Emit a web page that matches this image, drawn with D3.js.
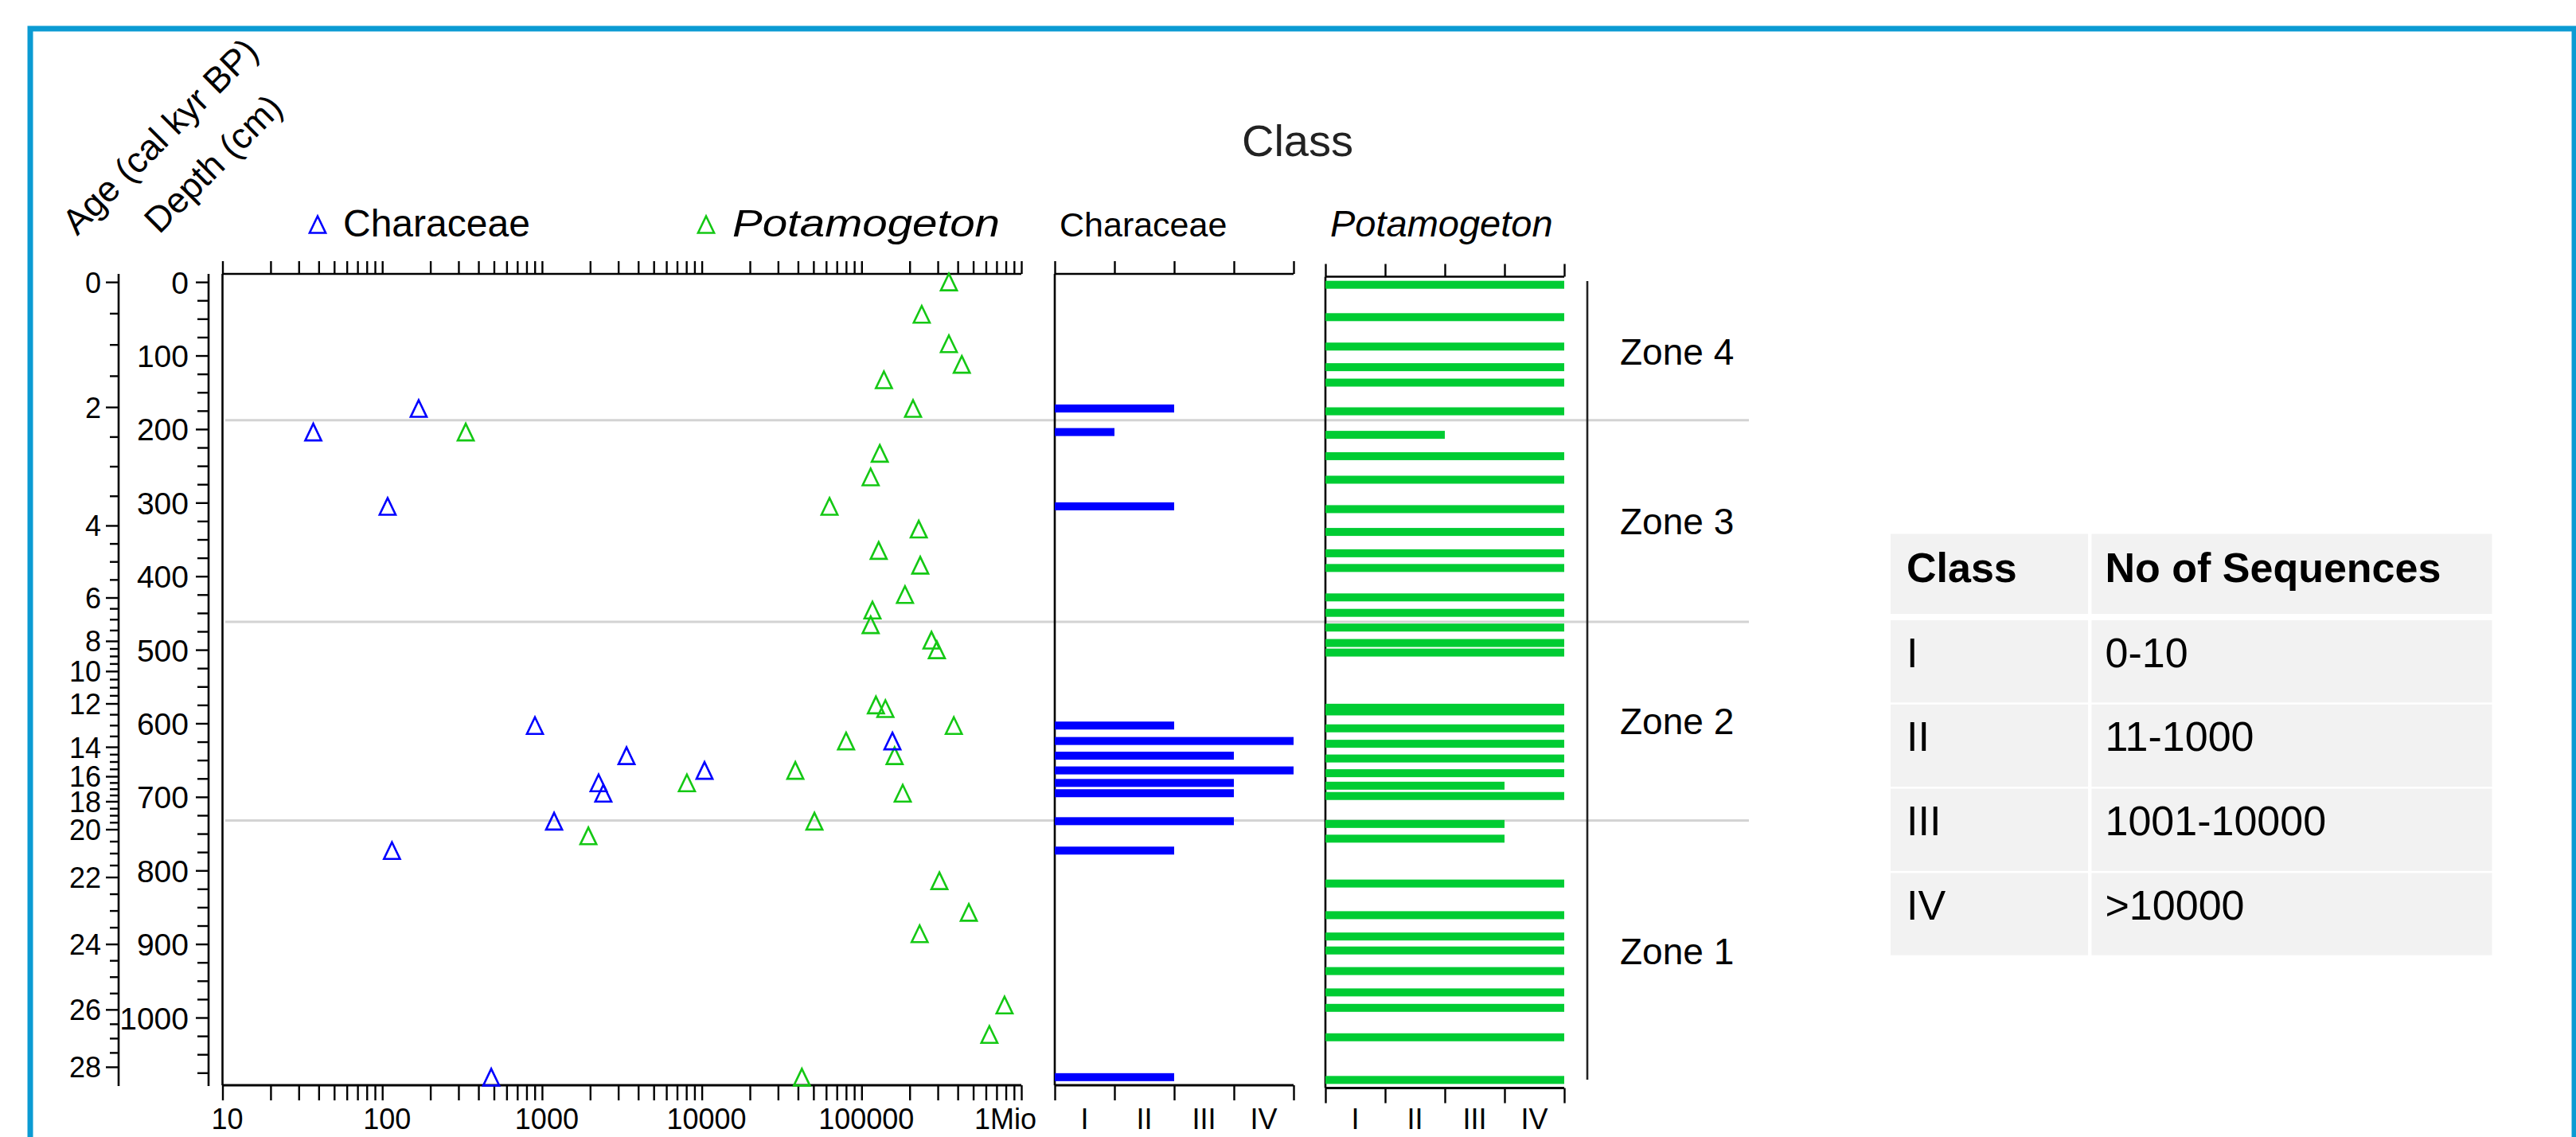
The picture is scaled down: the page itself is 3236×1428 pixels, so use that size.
<!DOCTYPE html>
<html>
<head>
<meta charset="utf-8">
<script src="https://cdn.jsdelivr.net/npm/d3@7"></script>
<style>
  html, body { margin: 0; padding: 0; background: #fff; }
  svg { display: block; }
</style>
</head>
<body>
<svg id="chart" width="3236" height="1428"></svg>
<script>
// ---- Characeae samples: depth (cm), number of sequences, abundance class (1-4)
const charDepth = [172, 204, 305, 603, 624, 644, 664, 681, 695, 733, 773, 1081];
const charCount = [169, 37, 108, 903, 156000, 3380, 10400, 2260, 2420, 1190, 115, 481];
const charClass = [2, 1, 2, 2, 4, 3, 4, 3, 3, 3, 2, 2];

// ---- Potamogeton samples: depth (cm), number of sequences, abundance class (1-4)
const potDepth = [0, 44, 84, 112, 133, 172, 204, 233, 265, 305, 336, 365, 385, 425, 446, 466, 487, 500, 575, 580,
                  603, 624, 644, 664, 681, 695, 733, 753, 814, 857, 886, 905, 933, 962, 983, 1023, 1081];
const potCount = [352000, 238000, 352000, 424000, 138000, 210000, 333, 130000, 114000, 63000, 228000, 128000, 233000,
                  187000, 117000, 114000, 274000, 296000, 123000, 141000, 378000, 80000, 161000, 38500, 8070, 181000,
                  50700, 1950, 307000, 469000, 231000, null, null, null, 785000, 631000, 42300];
const potClass = [4, 4, 4, 4, 4, 4, 2, 4, 4, 4, 4, 4, 4, 4, 4, 4, 4, 4, 4, 4,
                  4, 4, 4, 4, 3, 4, 3, 3, 4, 4, 4, 4, 4, 4, 4, 4, 4];

// ---- age-depth model: calibrated age (kyr BP) at depth (cm)
const ageKyr   = [0, 2, 4, 6, 8, 10, 12, 14, 16, 18, 20, 22, 24, 26, 28];
const ageDepth = [0, 170, 331, 429, 488, 529, 573, 632, 672, 706, 744, 809, 900, 989, 1067];

// ---- zones (top to bottom) and their depth limits
const zoneNames = ["Zone 4", "Zone 3", "Zone 2", "Zone 1"];
const zoneEdges = [0, 188, 462, 732, 1087];

// ---- count axis ticks
const countTicks = [10, 100, 1000, 10000, 100000, 1000000];
const countTickLabels = ["10", "100", "1000", "10000", "100000", "1Mio"];

// ---- class legend table
const classLabels = ["I", "II", "III", "IV"];
const classRanges = ["0-10", "11-1000", "1001-10000", ">10000"];
const tableHeader = ["Class", "No of Sequences"];

// ================= drawing =================
const FONT = '"Liberation Sans", Arial, Helvetica, sans-serif';
const BLUE = "#0000ff";
const GREEN = "#00cc33";
const GREEN_MARK = "#14c814";
const INK = "#000";

const svg = d3.select("#chart").attr("font-family", FONT);

// outer frame
svg.append("rect")
  .attr("x", 38).attr("y", 36).attr("width", 3196).attr("height", 1470)
  .attr("fill", "none").attr("stroke", "#0b9bd3").attr("stroke-width", 7);

// shared depth scale (scatter + Characeae classes); Potamogeton classes sit slightly lower
const y  = d3.scaleLinear().domain([-11, 1092]).range([344, 1363]);
const yP = d3.scaleLinear().domain([-11, 1092]).range([347.5, 1366.5]);
const x  = d3.scaleLog().domain([10, 1e6]).range([279.5, 1283]);
const age = d3.scaleLinear().domain(ageKyr).range(ageDepth.map(d => y(d)));

const xC = d3.scaleLinear().domain([0, 4]).range([1325, 1625]);
const xP = d3.scaleLinear().domain([0, 4]).range([1665, 1965]);

const LABEL_Y = 1418;

function styleAxis(g) {
  g.attr("font-family", FONT);
  g.select(".domain").remove();
  g.selectAll(".tick line").attr("stroke", INK).attr("stroke-width", 2.4);
  g.selectAll(".tick text").attr("fill", INK);
}

// zone separators
svg.append("g").selectAll("line")
  .data(zoneEdges.slice(1, -1)).join("line")
  .attr("x1", 283).attr("x2", 2197)
  .attr("y1", d => y(d)).attr("y2", d => y(d))
  .attr("stroke", "#d3d3d3").attr("stroke-width", 3);

// ---------- age axis ----------
const ageTop = y.range()[0], ageBottom = y.range()[1];
const gAge = svg.append("g").attr("transform", "translate(149,0)");
gAge.append("line").attr("y1", ageTop).attr("y2", ageBottom + 1).attr("stroke", INK).attr("stroke-width", 2.6);
gAge.append("g")
  .call(d3.axisLeft(age).tickValues(d3.range(0, 28.01, 0.5).filter(v => v % 2 !== 0))
        .tickSize(11).tickSizeOuter(0).tickFormat(""))
  .call(styleAxis);
gAge.append("g")
  .call(d3.axisLeft(age).tickValues(ageKyr).tickSize(16).tickSizeOuter(0).tickPadding(6)
        .tickFormat(d3.format("d")))
  .call(styleAxis)
  .call(g => g.selectAll(".tick text").attr("font-size", 36).attr("dy", "0.36em"));

// ---------- depth axis ----------
const gDepth = svg.append("g").attr("transform", "translate(262,0)");
gDepth.append("line").attr("y1", ageTop).attr("y2", ageBottom + 1).attr("stroke", INK).attr("stroke-width", 2.6);
gDepth.append("g")
  .call(d3.axisLeft(y).tickValues(d3.range(25, 1090, 25).filter(v => v % 100 !== 0))
        .tickSize(14).tickSizeOuter(0).tickFormat(""))
  .call(styleAxis);
gDepth.append("g")
  .call(d3.axisLeft(y).tickValues(d3.range(0, 1001, 100)).tickSize(16).tickSizeOuter(0).tickPadding(9)
        .tickFormat(d3.format("d")))
  .call(styleAxis)
  .call(g => g.selectAll(".tick text").attr("font-size", 39).attr("dy", "0.36em"));

// axis titles
svg.append("text").attr("transform", "translate(97,297) rotate(-45)")
  .attr("font-size", 45).attr("fill", INK).text("Age (cal kyr BP)");
svg.append("text").attr("transform", "translate(200,295) rotate(-45)")
  .attr("font-size", 45).attr("fill", INK).text("Depth (cm)");

// ---------- scatter panel ----------
const gSc = svg.append("g");
gSc.append("line").attr("x1", x(10)).attr("x2", x(10)).attr("y1", ageTop).attr("y2", ageBottom)
  .attr("stroke", INK).attr("stroke-width", 2.6);
gSc.append("line").attr("x1", x(10)).attr("x2", x(1e6)).attr("y1", ageTop).attr("y2", ageTop)
  .attr("stroke", INK).attr("stroke-width", 2.6);
gSc.append("line").attr("x1", x(10)).attr("x2", x(1e6)).attr("y1", ageBottom).attr("y2", ageBottom)
  .attr("stroke", INK).attr("stroke-width", 3);
gSc.append("g").attr("transform", `translate(0,${ageTop})`)
  .call(d3.axisTop(x).tickValues(x.ticks()).tickSize(16).tickSizeOuter(0).tickFormat(""))
  .call(styleAxis);
gSc.append("g").attr("transform", `translate(0,${ageBottom})`)
  .call(d3.axisBottom(x).tickValues(x.ticks()).tickSize(19).tickSizeOuter(0).tickFormat(""))
  .call(styleAxis);
gSc.append("g").selectAll("text").data(countTicks).join("text")
  .attr("x", (d, i) => i === countTicks.length - 1 ? x(d) + 19 : x(d) + 6)
  .attr("y", LABEL_Y)
  .attr("text-anchor", (d, i) => i === countTicks.length - 1 ? "end" : "middle")
  .attr("font-size", 36).attr("fill", INK)
  .text((d, i) => countTickLabels[i]);

// open triangle marker, centred on its bounding box
const openTriangle = {
  draw(ctx, size) {
    const h = Math.sqrt(size), w = h * 0.96;
    ctx.moveTo(0, -h / 2);
    ctx.lineTo(w / 2, h / 2);
    ctx.lineTo(-w / 2, h / 2);
    ctx.closePath();
  }
};
const tri = d3.symbol().type(openTriangle).size(21 * 21);

const charPts = charDepth.map((d, i) => ({ depth: d, count: charCount[i] }));
const potPts = potDepth.map((d, i) => ({ depth: d, count: potCount[i] })).filter(p => p.count != null);

gSc.append("g").selectAll("path").data(potPts).join("path")
  .attr("d", tri).attr("transform", p => `translate(${x(p.count)},${y(p.depth)})`)
  .attr("fill", "none").attr("stroke", GREEN_MARK).attr("stroke-width", 2.6);
gSc.append("g").selectAll("path").data(charPts).join("path")
  .attr("d", tri).attr("transform", p => `translate(${x(p.count)},${y(p.depth)})`)
  .attr("fill", "none").attr("stroke", BLUE).attr("stroke-width", 2.6);

// legend
svg.append("path").attr("d", tri).attr("transform", "translate(399,282)")
  .attr("fill", "none").attr("stroke", BLUE).attr("stroke-width", 2.6);
svg.append("text").attr("x", 431).attr("y", 297).attr("font-size", 48).attr("fill", INK).text("Characeae");
svg.append("path").attr("d", tri).attr("transform", "translate(887,282)")
  .attr("fill", "none").attr("stroke", GREEN_MARK).attr("stroke-width", 2.6);
svg.append("text").attr("x", 920).attr("y", 297).attr("font-size", 48).attr("font-style", "italic")
  .attr("textLength", 336).attr("lengthAdjust", "spacingAndGlyphs")
  .attr("fill", INK).text("Potamogeton");

// ---------- class panels ----------
function classPanel(xs, ys, depths, classes, color, title, italic, titleSize) {
  const g = svg.append("g");
  const top = ys.range()[0], bottom = ys.range()[1];
  g.append("line").attr("x1", xs(0)).attr("x2", xs(0)).attr("y1", top).attr("y2", bottom)
    .attr("stroke", INK).attr("stroke-width", 2.6);
  g.append("line").attr("x1", xs(0)).attr("x2", xs(4)).attr("y1", top).attr("y2", top)
    .attr("stroke", INK).attr("stroke-width", 2.6);
  g.append("line").attr("x1", xs(0)).attr("x2", xs(4)).attr("y1", bottom).attr("y2", bottom)
    .attr("stroke", INK).attr("stroke-width", 3);
  g.append("g").attr("transform", `translate(0,${top})`)
    .call(d3.axisTop(xs).tickValues([0, 1, 2, 3, 4]).tickSize(16).tickSizeOuter(0).tickFormat(""))
    .call(styleAxis);
  g.append("g").attr("transform", `translate(0,${bottom})`)
    .call(d3.axisBottom(xs).tickValues([0, 1, 2, 3, 4]).tickSize(19).tickSizeOuter(0).tickFormat(""))
    .call(styleAxis);
  g.append("g").selectAll("text").data(classLabels).join("text")
    .attr("x", (d, i) => xs(i + 0.5)).attr("y", LABEL_Y)
    .attr("text-anchor", "middle").attr("font-size", 36).attr("fill", INK).text(d => d);
  g.append("g").selectAll("rect").data(depths.map((d, i) => ({ depth: d, cls: classes[i] }))).join("rect")
    .attr("x", xs(0)).attr("width", b => xs(b.cls) - xs(0))
    .attr("y", b => ys(b.depth) - 5).attr("height", 10)
    .attr("fill", color);
  g.append("text").attr("x", xs(0) + 6).attr("y", 297).attr("font-size", titleSize)
    .attr("font-style", italic ? "italic" : "normal").attr("fill", INK).text(title);
}
classPanel(xC, y, charDepth, charClass, BLUE, "Characeae", false, 43);
classPanel(xP, yP, potDepth, potClass, GREEN, "Potamogeton", true, 47);

svg.append("text").attr("x", 1630).attr("y", 196).attr("text-anchor", "middle")
  .attr("font-size", 56).attr("fill", "#222").text("Class");

// ---------- zones ----------
svg.append("line").attr("x1", 1994).attr("x2", 1994).attr("y1", 353).attr("y2", 1356)
  .attr("stroke", "#222").attr("stroke-width", 2.6);
svg.append("g").selectAll("text").data(zoneNames).join("text")
  .attr("x", 2035).attr("y", (d, i) => y((zoneEdges[i] + zoneEdges[i + 1]) / 2))
  .attr("dy", "0.36em").attr("font-size", 46).attr("fill", INK).text(d => d);

// ---------- class table ----------
const tbl = { x: 2375, col1: 248, gap: 4.5, col2: 503, top: 670.5, headH: 100.5, headGap: 8, rowH: 103.3, rowGap: 2.5 };
const rowsData = [tableHeader].concat(classLabels.map((c, i) => [c, classRanges[i]]));
const rowTop = i => i === 0 ? tbl.top : tbl.top + tbl.headH + tbl.headGap + (i - 1) * (tbl.rowH + tbl.rowGap);
const rowH = i => i === 0 ? tbl.headH : tbl.rowH;
const gT = svg.append("g");
rowsData.forEach((row, i) => {
  const r = gT.append("g");
  r.append("rect").attr("x", tbl.x).attr("y", rowTop(i)).attr("width", tbl.col1).attr("height", rowH(i)).attr("fill", "#f2f2f2");
  r.append("rect").attr("x", tbl.x + tbl.col1 + tbl.gap).attr("y", rowTop(i)).attr("width", tbl.col2).attr("height", rowH(i)).attr("fill", "#f2f2f2");
  r.selectAll("text").data(row).join("text")
    .attr("x", (d, j) => j === 0 ? tbl.x + 20 : tbl.x + tbl.col1 + tbl.gap + 17)
    .attr("y", rowTop(i) + (i === 0 ? 60.5 : 58.5))
    .attr("font-size", 52).attr("font-weight", i === 0 ? "bold" : "normal").attr("fill", INK)
    .text(d => d);
});
</script>
</body>
</html>
